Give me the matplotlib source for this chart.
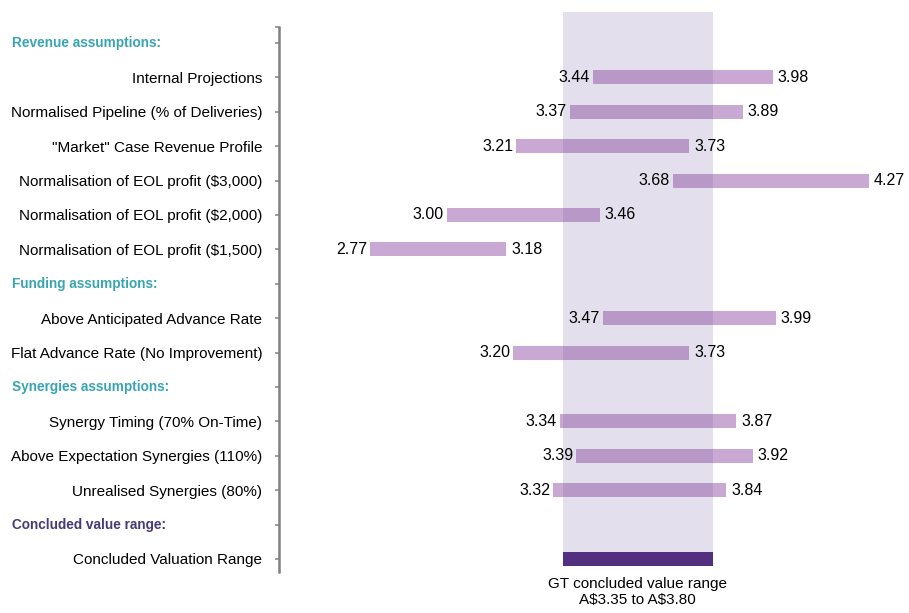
import matplotlib
matplotlib.use("Agg")
import matplotlib.pyplot as plt
from matplotlib.patches import Rectangle
from matplotlib.transforms import blended_transform_factory

plt.rcParams['font.family'] = ['Liberation Sans', 'DejaVu Sans']
plt.rcParams['text.parse_math'] = False

# Rows from top to bottom: section headers, scenarios and the concluded range
rows = [
    ("header", "Revenue assumptions:"),
    ("item", "Internal Projections"),
    ("item", "Normalised Pipeline (% of Deliveries)"),
    ("item", "\"Market\" Case Revenue Profile"),
    ("item", "Normalisation of EOL profit ($3,000)"),
    ("item", "Normalisation of EOL profit ($2,000)"),
    ("item", "Normalisation of EOL profit ($1,500)"),
    ("header", "Funding assumptions:"),
    ("item", "Above Anticipated Advance Rate"),
    ("item", "Flat Advance Rate (No Improvement)"),
    ("header", "Synergies assumptions:"),
    ("item", "Synergy Timing (70% On-Time)"),
    ("item", "Above Expectation Synergies (110%)"),
    ("item", "Unrealised Synergies (80%)"),
    ("header", "Concluded value range:"),
    ("concluded", "Concluded Valuation Range"),
]

low_values = [3.44, 3.37, 3.21, 3.68, 3.00, 2.77, 3.47, 3.20, 3.34, 3.39, 3.32]
high_values = [3.98, 3.89, 3.73, 4.27, 3.46, 3.18, 3.99, 3.73, 3.87, 3.92, 3.84]

concluded_low = 3.35
concluded_high = 3.80

light_bar = "#c9a9d4"
overlap_bar = "#b898c6"
band_color = "#e4dfec"
concluded_color = "#52307f"
header_teal = "#3aa5b2"
header_purple = "#4a3a74"

label_size = 11
value_size = 11.5

fig = plt.figure(figsize=(9.09, 6.13), dpi=100)
ax = fig.add_axes([279 / 909, 41 / 613, 630 / 909, 545 / 613])

bar_h = 0.41

# Concluded range band behind everything
ax.add_patch(Rectangle((concluded_low, -0.9), concluded_high - concluded_low, 16.1,
                       facecolor=band_color, edgecolor="none", zorder=0, clip_on=False))

item_iter = iter(zip(low_values, high_values))
tick_pos = []
tick_labels = []
trans = blended_transform_factory(fig.transFigure, ax.transData)
for i, (kind, label) in enumerate(rows):
    if kind == "header":
        color = header_purple if label.startswith("Concluded") else header_teal
        ax.text(12 / 909, i, label, transform=trans, ha="left", va="center",
                fontsize=9.8, fontweight="bold", color=color)
        tick_pos.append(i)
        tick_labels.append("")
    elif kind == "item":
        lo, hi = next(item_iter)
        ax.barh(i, hi - lo, left=lo, height=bar_h, color=light_bar, zorder=2)
        olo, ohi = max(lo, concluded_low), min(hi, concluded_high)
        if ohi > olo:
            ax.barh(i, ohi - olo, left=olo, height=bar_h, color=overlap_bar, zorder=3)
        ax.annotate(f"{lo:.2f}", (lo, i), xytext=(-3, 0), textcoords="offset pixels",
                    ha="right", va="center", fontsize=value_size)
        ax.annotate(f"{hi:.2f}", (hi, i), xytext=(5, 0), textcoords="offset pixels",
                    ha="left", va="center", fontsize=value_size)
        tick_pos.append(i)
        tick_labels.append(label)
    else:
        ax.barh(i, concluded_high - concluded_low, left=concluded_low, height=bar_h,
                color=concluded_color, zorder=3)
        tick_pos.append(i)
        tick_labels.append(label)

ax.set_xlim(2.4965, 4.39)
ax.set_ylim(15.38, -0.465)

ax.set_yticks([-0.465] + tick_pos)
ax.set_yticklabels([""] + tick_labels, fontsize=label_size)
ax.tick_params(axis="y", direction="out", length=3, width=1.2, color="#8c8c8c", pad=9)
ax.set_xticks([])

for side in ["top", "right", "bottom"]:
    ax.spines[side].set_visible(False)
ax.spines["left"].set_color("#808080")
ax.spines["left"].set_linewidth(1.8)

ax.text((concluded_low + concluded_high) / 2, 15.52,
        "GT concluded value range\nA$3.35 to A$3.80",
        ha="center", va="top", fontsize=11, linespacing=1.2, clip_on=False)

fig.savefig("out.png", dpi=100)
